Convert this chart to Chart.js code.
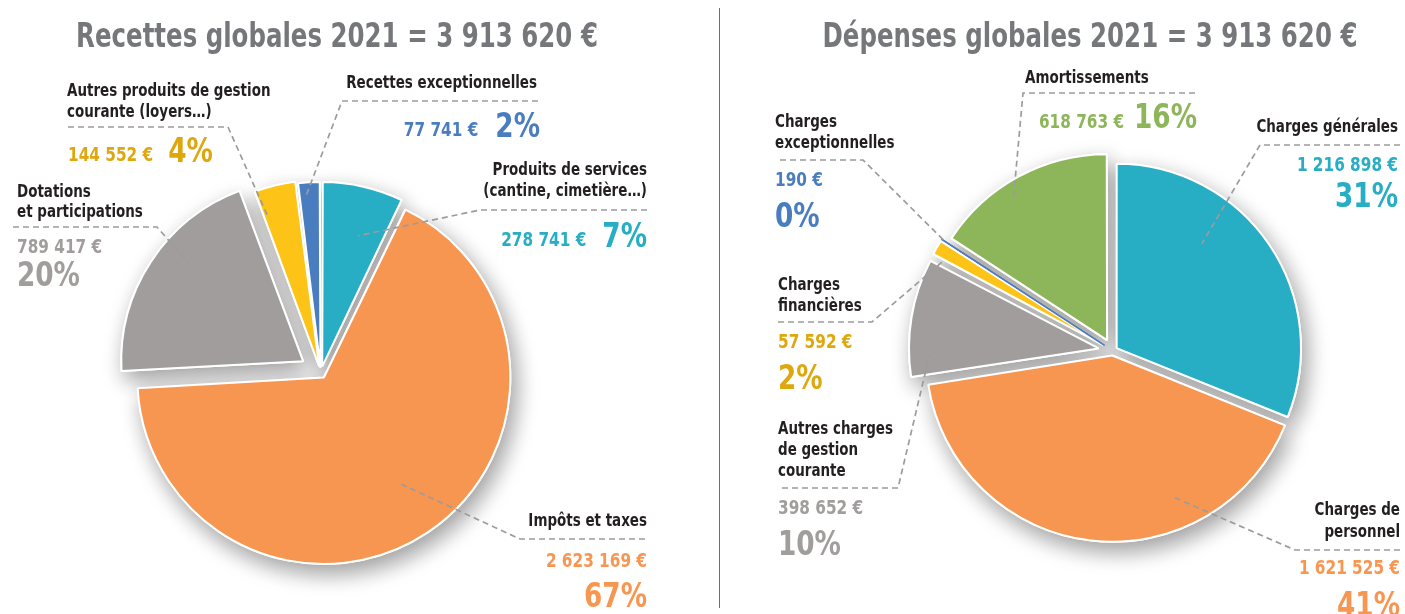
<!DOCTYPE html>
<html lang="fr">
<head>
<meta charset="utf-8">
<title>Recettes et dépenses globales 2021</title>
<script src="https://cdn.jsdelivr.net/npm/chart.js@4"></script>
<style>
    html, body { margin: 0; padding: 0; background: #fff; }
    body { width: 1405px; height: 614px; position: relative; overflow: hidden; }
    canvas { position: absolute; top: 0; }
    #recettes { left: 0; }
    #depenses { left: 722px; }
    .sep { position: absolute; left: 719px; top: 8px; width: 1px; height: 600px; background: #6d6e71; }
</style>
</head>
<body>
<canvas id="recettes" width="718" height="614"></canvas>
<div class="sep"></div>
<canvas id="depenses" width="683" height="614"></canvas>
<script>
// Data
const recTitle = 'Recettes globales 2021 = 3 913 620 €';
const recLabels = [['Produits de services', '(cantine, cimetière…)'], ['Impôts et taxes'], ['Dotations', 'et participations'], ['Autres produits de gestion', 'courante (loyers…)'], ['Recettes exceptionnelles']];
const recValues = [278741, 2623169, 789417, 144552, 77741];
const recPercents = ['7%', '67%', '20%', '4%', '2%'];

const depTitle = 'Dépenses globales 2021 = 3 913 620 €';
const depLabels = [['Charges générales'], ['Charges de', 'personnel'], ['Autres charges', 'de gestion', 'courante'], ['Charges', 'financières'], ['Charges', 'exceptionnelles'], ['Amortissements']];
const depValues = [1216898, 1621525, 398652, 57592, 190, 618763];
const depPercents = ['31%', '41%', '10%', '2%', '0%', '16%'];

// Colours
const TEAL = '#27adc4', ORANGE = '#f79651', GREY = '#a19d9c', YELLOW = '#fdc316', BLUE = '#4a7dc0', GREEN = '#8db65b';
const FAMILY = '"Liberation Sans Narrow", "DejaVu Sans Condensed", "DejaVu Sans", sans-serif';

// text styles: size in px, horizontal squeeze
const TITLE_FONT = {size: 34, sx: 0.8};
const LABEL_FONT = {size: 17, sx: 0.88};
const VALUE_FONT = {size: 20, sx: 0.85};
const PCT_FONT = {size: 34, sx: 0.86};

// Label placement (page pixels)
const recLayout = [
    {align: 'right', x: 647, lineY: [175, 196], dashY: 210, dashEnd: 647, elbowX: 480, numX: 647, numAlign: 'right', inline: true, gap: 16, valueY: 246, pctY: 247, t: 0.6, f: 0.73, shift: 10},
    {align: 'right', x: 647, lineY: [526], dashY: 539, dashEnd: 645, elbowX: 520, numX: 647, numAlign: 'right', inline: false, valueY: 567, pctY: 607, t: 0.49, f: 0.70, shift: 11},
    {align: 'left', x: 17, lineY: [197, 217], dashY: 227, dashEnd: 13, elbowX: 157, numX: 17, numAlign: 'left', inline: false, valueY: 253, pctY: 286, t: 0.6, f: 0.82, shift: 22},
    {align: 'left', x: 67, lineY: [96, 117], dashY: 127, dashEnd: 68, elbowX: 228, numX: 68, numAlign: 'left', inline: true, gap: 15, valueY: 161, pctY: 162, t: 0.1, f: 0.85, shift: 12},
    {align: 'right', x: 537, lineY: [88], dashY: 101, dashEnd: 538, elbowX: 342, numX: 540, numAlign: 'right', inline: true, gap: 17, valueY: 136, pctY: 137, t: 0.3, f: 0.92, shift: 10}
];
const depLayout = [
    {align: 'right', x: 1398, lineY: [132], dashY: 145, dashEnd: 1400, elbowX: 1260, numX: 1398, numAlign: 'right', inline: false, valueY: 171, pctY: 207, t: 0.35, f: 0.73, shift: 5},
    {align: 'right', x: 1400, lineY: [515, 537], dashY: 550, dashEnd: 1400, elbowX: 1295, numX: 1400, numAlign: 'right', inline: false, valueY: 574, pctY: 616, t: 0.3, f: 0.82, shift: 7},
    {align: 'left', x: 778, lineY: [434, 455, 476], dashY: 488, dashEnd: 782, elbowX: 898, numX: 778, numAlign: 'left', inline: false, valueY: 514, pctY: 555, t: 0.17, f: 0.89, shift: 20},
    {align: 'left', x: 778, lineY: [290, 311], dashY: 322, dashEnd: 778, elbowX: 872, numX: 778, numAlign: 'left', inline: false, valueY: 348, pctY: 389, t: 0.1, f: 0.93, shift: 20},
    {align: 'left', x: 775, lineY: [127, 148], dashY: 160, dashEnd: 780, elbowX: 863, numX: 775, numAlign: 'left', inline: false, valueY: 186, pctY: 227, t: 0.5, f: 0.98, shift: 20},
    {align: 'left', x: 1025, lineY: [83], dashY: 93, dashEnd: 1195, elbowX: 1023, numX: 1197, numAlign: 'right', inline: true, gap: 10, valueY: 128, pctY: 128, t: 0.4, f: 0.9, shift: 14}
];

// Functions
function euros(v) {
    return String(v).replace(/\B(?=(\d{3})+(?!\d))/g, ' ') + ' €';
}

// Chart.js moves an arc by offset/4 * (2 - sin(min(PI, angle)))
function arcOffset(shift, value, total) {
    const angle = 2 * Math.PI * value / total;
    return 4 * shift / (2 - Math.sin(Math.min(Math.PI, angle)));
}

function textWidth(ctx, text, style) {
    ctx.font = `bold ${style.size}px ${FAMILY}`;
    return ctx.measureText(text).width * style.sx;
}

// squeezed text, to get close to the condensed face of the original
function drawText(ctx, text, x, y, align, style) {
    ctx.save();
    ctx.font = `bold ${style.size}px ${FAMILY}`;
    ctx.textAlign = align;
    ctx.textBaseline = 'alphabetic';
    ctx.translate(x, y);
    ctx.scale(style.sx, 1);
    ctx.fillText(text, 0, 0);
    ctx.restore();
}

function makeCallouts(cfg) {
    return {
        id: 'callouts',
        beforeDatasetsDraw(chart) {
            // soft shadow under the slices
            const ctx = chart.ctx;
            ctx.save();
            ctx.shadowColor = 'rgba(0, 0, 0, 0.38)';
            ctx.shadowBlur = 22;
            ctx.shadowOffsetX = 5;
            ctx.shadowOffsetY = 9;
            chart.getDatasetMeta(0).data.forEach(arc => arc.draw(ctx));
            ctx.restore();
        },
        afterDatasetsDraw(chart) {
            const ctx = chart.ctx;
            const ox = cfg.ox;
            const values = chart.data.datasets[0].data;
            ctx.save();

            ctx.fillStyle = '#76777a';
            drawText(ctx, cfg.title, cfg.titleX - ox, 47, 'center', TITLE_FONT);

            chart.getDatasetMeta(0).data.forEach((arc, i) => {
                const L = cfg.layout[i];
                const p = arc.getProps(['x', 'y', 'startAngle', 'endAngle', 'outerRadius'], true);
                const circ = p.endAngle - p.startAngle;
                const move = (arc.options.offset || 0) / 4 * (2 - Math.sin(Math.min(Math.PI, circ)));
                const half = (p.startAngle + p.endAngle) / 2;
                const a = p.startAngle + L.t * circ;
                const ax = p.x + Math.cos(half) * move + Math.cos(a) * L.f * p.outerRadius;
                const ay = p.y + Math.sin(half) * move + Math.sin(a) * L.f * p.outerRadius;

                ctx.setLineDash([6, 4]);
                ctx.strokeStyle = '#9c9c9c';
                ctx.lineWidth = 1.7;
                ctx.beginPath();
                ctx.moveTo(L.dashEnd - ox, L.dashY);
                ctx.lineTo(L.elbowX - ox, L.dashY);
                ctx.lineTo(ax, ay);
                ctx.stroke();
                ctx.setLineDash([]);

                ctx.fillStyle = '#231f20';
                chart.data.labels[i].forEach((line, k) => drawText(ctx, line, L.x - ox, L.lineY[k], L.align, LABEL_FONT));

                const valueText = euros(values[i]);
                const pctText = cfg.percents[i];
                ctx.fillStyle = cfg.textColors[i];
                if (L.inline) {
                    const pw = textWidth(ctx, pctText, PCT_FONT);
                    const vw = textWidth(ctx, valueText, VALUE_FONT);
                    if (L.numAlign === 'right') {
                        drawText(ctx, pctText, L.numX - ox, L.pctY, 'right', PCT_FONT);
                        drawText(ctx, valueText, L.numX - ox - pw - L.gap, L.valueY, 'right', VALUE_FONT);
                    } else {
                        drawText(ctx, valueText, L.numX - ox, L.valueY, 'left', VALUE_FONT);
                        drawText(ctx, pctText, L.numX - ox + vw + L.gap, L.pctY, 'left', PCT_FONT);
                    }
                } else {
                    drawText(ctx, valueText, L.numX - ox, L.valueY, L.numAlign, VALUE_FONT);
                    drawText(ctx, pctText, L.numX - ox, L.pctY, L.numAlign, PCT_FONT);
                }
            });
            ctx.restore();
        }
    };
}

// Create chart
function createPieChart(canvasID, labels, values, colors, borders, cfg) {
    const ctx = document.getElementById(canvasID).getContext('2d');
    const total = values.reduce((s, v) => s + v, 0);
    const offsets = values.map((v, i) => arcOffset(cfg.layout[i].shift, v, total));

    const myChart = new Chart(ctx, {
        type: 'pie',
        data: {
            labels: labels,
            datasets: [{
                data: values,
                backgroundColor: colors,
                borderColor: borders.map(b => b.color),
                borderWidth: borders.map(b => b.width),
                offset: offsets,
                hoverOffset: offsets,
                clip: false
            }]
        },
        options: {
            responsive: false,
            animation: false,
            radius: cfg.radius,
            layout: { padding: cfg.padding },
            events: [],
            plugins: {
                legend: { display: false },
                tooltip: { enabled: false }
            }
        },
        plugins: [makeCallouts(cfg)]
    });

    return myChart;
}

const white = {color: '#ffffff', width: 2};

createPieChart('recettes', recLabels, recValues,
    [TEAL, ORANGE, GREY, YELLOW, BLUE],
    [white, white, white, white, white],
    {
        ox: 0, title: recTitle, titleX: 337, radius: 181,
        padding: {left: 0, right: 76.4, top: 131.8, bottom: 0},
        layout: recLayout, percents: recPercents,
        textColors: [TEAL, ORANGE, GREY, '#dfa70e', BLUE]
    });

createPieChart('depenses', depLabels, depValues,
    [TEAL, ORANGE, GREY, YELLOW, BLUE, GREEN],
    [white, white, white, white, {color: BLUE, width: 1.5}, white],
    {
        ox: 722, title: depTitle, titleX: 1090, radius: 184,
        padding: {left: 98.6, right: 0, top: 87.6, bottom: 0},
        layout: depLayout, percents: depPercents,
        textColors: [TEAL, ORANGE, GREY, '#dfa70e', BLUE, GREEN]
    });
</script>
</body>
</html>
